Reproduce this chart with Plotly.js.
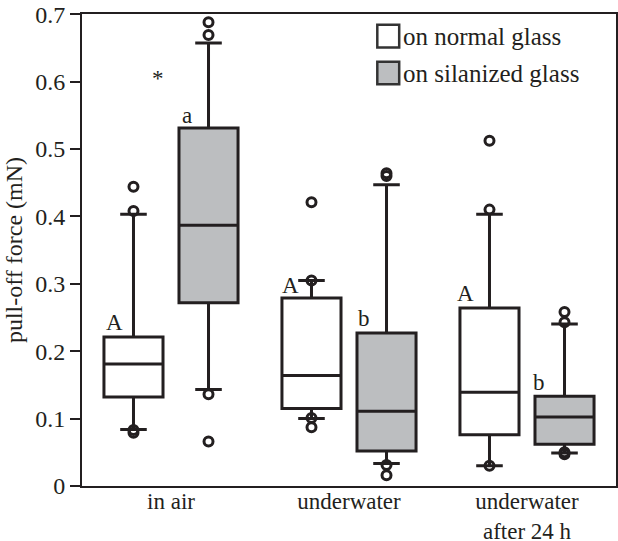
<!DOCTYPE html>
<html>
<head>
<meta charset="utf-8">
<script src="https://cdn.plot.ly/plotly-3.0.1.min.js"></script>
<style>html,body{margin:0;padding:0;background:#fff}#chart{width:618px;height:541px}</style>
</head>
<body>
<div id="chart"></div>
<script>
const categories = ["in air", "underwater", "underwater<br>after 24 h"];
const yTickVals = [0, 0.1, 0.2, 0.3, 0.4, 0.5, 0.6, 0.7];
const yTickText = ["0", "0.1", "0.2", "0.3", "0.4", "0.5", "0.6", "0.7"];

// on normal glass
const normalQ1 = [0.132, 0.115, 0.076];
const normalMedian = [0.181, 0.164, 0.139];
const normalQ3 = [0.221, 0.279, 0.264];
const normalLower = [0.084, 0.100, 0.030];
const normalUpper = [0.403, 0.305, 0.403];
const normalOutX = ["in air", "in air", "in air", "in air", "underwater", "underwater", "underwater", "underwater", "underwater<br>after 24 h", "underwater<br>after 24 h", "underwater<br>after 24 h"];
const normalOutY = [0.444, 0.408, 0.079, 0.083, 0.421, 0.305, 0.101, 0.087, 0.512, 0.410, 0.030];

// on silanized glass
const silQ1 = [0.272, 0.052, 0.062];
const silMedian = [0.387, 0.111, 0.1025];
const silQ3 = [0.531, 0.227, 0.133];
const silLower = [0.143, 0.0335, 0.049];
const silUpper = [0.657, 0.447, 0.2405];
const silOutX = ["in air", "in air", "in air", "in air", "underwater", "underwater", "underwater", "underwater", "underwater<br>after 24 h", "underwater<br>after 24 h", "underwater<br>after 24 h", "underwater<br>after 24 h"];
const silOutY = [0.688, 0.669, 0.136, 0.066, 0.464, 0.460, 0.031, 0.016, 0.258, 0.243, 0.047, 0.050];

const seriesNames = ["on normal glass", "on silanized glass"];
const letterText = ["A", "*", "a", "A", "b", "A", "b"];
const letterX = [-0.315, -0.073, 0.09, 0.669, 1.084, 1.652, 2.067];
const letterY = [0.243, 0.605, 0.55, 0.298, 0.248, 0.285, 0.154];

const ink = "#231f20";
const grey = "#bcbec0";
const font = "Liberation Serif, Times New Roman, serif";

const traces = [
  {type: "box", name: seriesNames[0], x: categories, q1: normalQ1, median: normalMedian, q3: normalQ3,
   lowerfence: normalLower, upperfence: normalUpper, fillcolor: "#ffffff",
   line: {color: ink, width: 3}, whiskerwidth: 0.45, offsetgroup: "n", hoverinfo: "skip"},
  {type: "box", name: seriesNames[1], x: categories, q1: silQ1, median: silMedian, q3: silQ3,
   lowerfence: silLower, upperfence: silUpper, fillcolor: grey,
   line: {color: ink, width: 3}, whiskerwidth: 0.45, offsetgroup: "s", hoverinfo: "skip"},
  {type: "scatter", mode: "markers", x: normalOutX, y: normalOutY, offsetgroup: "n",
   marker: {symbol: "circle-open", size: 9, color: ink, line: {width: 3, color: ink}}, hoverinfo: "skip"},
  {type: "scatter", mode: "markers", x: silOutX, y: silOutY, offsetgroup: "s",
   marker: {symbol: "circle-open", size: 9, color: ink, line: {width: 3, color: ink}}, hoverinfo: "skip"}
];

const annotations = letterText.map((t, i) => ({
  x: letterX[i], y: letterY[i], xref: "x", yref: "y", text: t, showarrow: false,
  font: {family: font, size: 23, color: ink}
}));
annotations.push(
  {x: 0.597, y: 0.953, xref: "paper", yref: "paper", xanchor: "left", yanchor: "middle", text: seriesNames[0], showarrow: false, font: {family: font, size: 25, color: ink}},
  {x: 0.597, y: 0.875, xref: "paper", yref: "paper", xanchor: "left", yanchor: "middle", text: seriesNames[1], showarrow: false, font: {family: font, size: 25, color: ink}}
);

const shapes = [
  {type: "rect", xref: "paper", yref: "paper", x0: 0.553, x1: 0.594, y0: 0.929, y1: 0.977, fillcolor: "#ffffff", line: {color: "#333", width: 2.5}},
  {type: "rect", xref: "paper", yref: "paper", x0: 0.553, x1: 0.594, y0: 0.851, y1: 0.899, fillcolor: grey, line: {color: "#333", width: 2.5}}
];

const layout = {
  width: 618, height: 541,
  margin: {l: 82, r: 2, t: 14, b: 55},
  paper_bgcolor: "#fff", plot_bgcolor: "#fff",
  showlegend: false,
  boxmode: "group", boxgap: 0.157, boxgroupgap: 0.213,
  scattermode: "group", scattergap: 0.157,
  font: {family: font, color: ink},
  xaxis: {type: "category", categoryorder: "array", categoryarray: categories, range: [-0.5, 2.5],
    showline: true, linecolor: ink, linewidth: 2, mirror: true, ticks: "", showgrid: false, zeroline: false,
    tickfont: {family: font, size: 23, color: ink}, fixedrange: true, ticklabelstandoff: -7},
  yaxis: {range: [0, 0.7002], tickmode: "array", tickvals: yTickVals, ticktext: yTickText,
    showline: true, linecolor: ink, linewidth: 2, mirror: true,
    ticks: "outside", ticklen: 10, tickwidth: 2, tickcolor: ink, showgrid: false, zeroline: false,
    tickfont: {family: font, size: 24, color: ink},
    title: {text: "pull-off force (mN)", font: {family: font, size: 24, color: ink}, standoff: 6}},
  annotations: annotations,
  shapes: shapes
};

Plotly.newPlot("chart", traces, layout, {staticPlot: true});
</script>
</body>
</html>
